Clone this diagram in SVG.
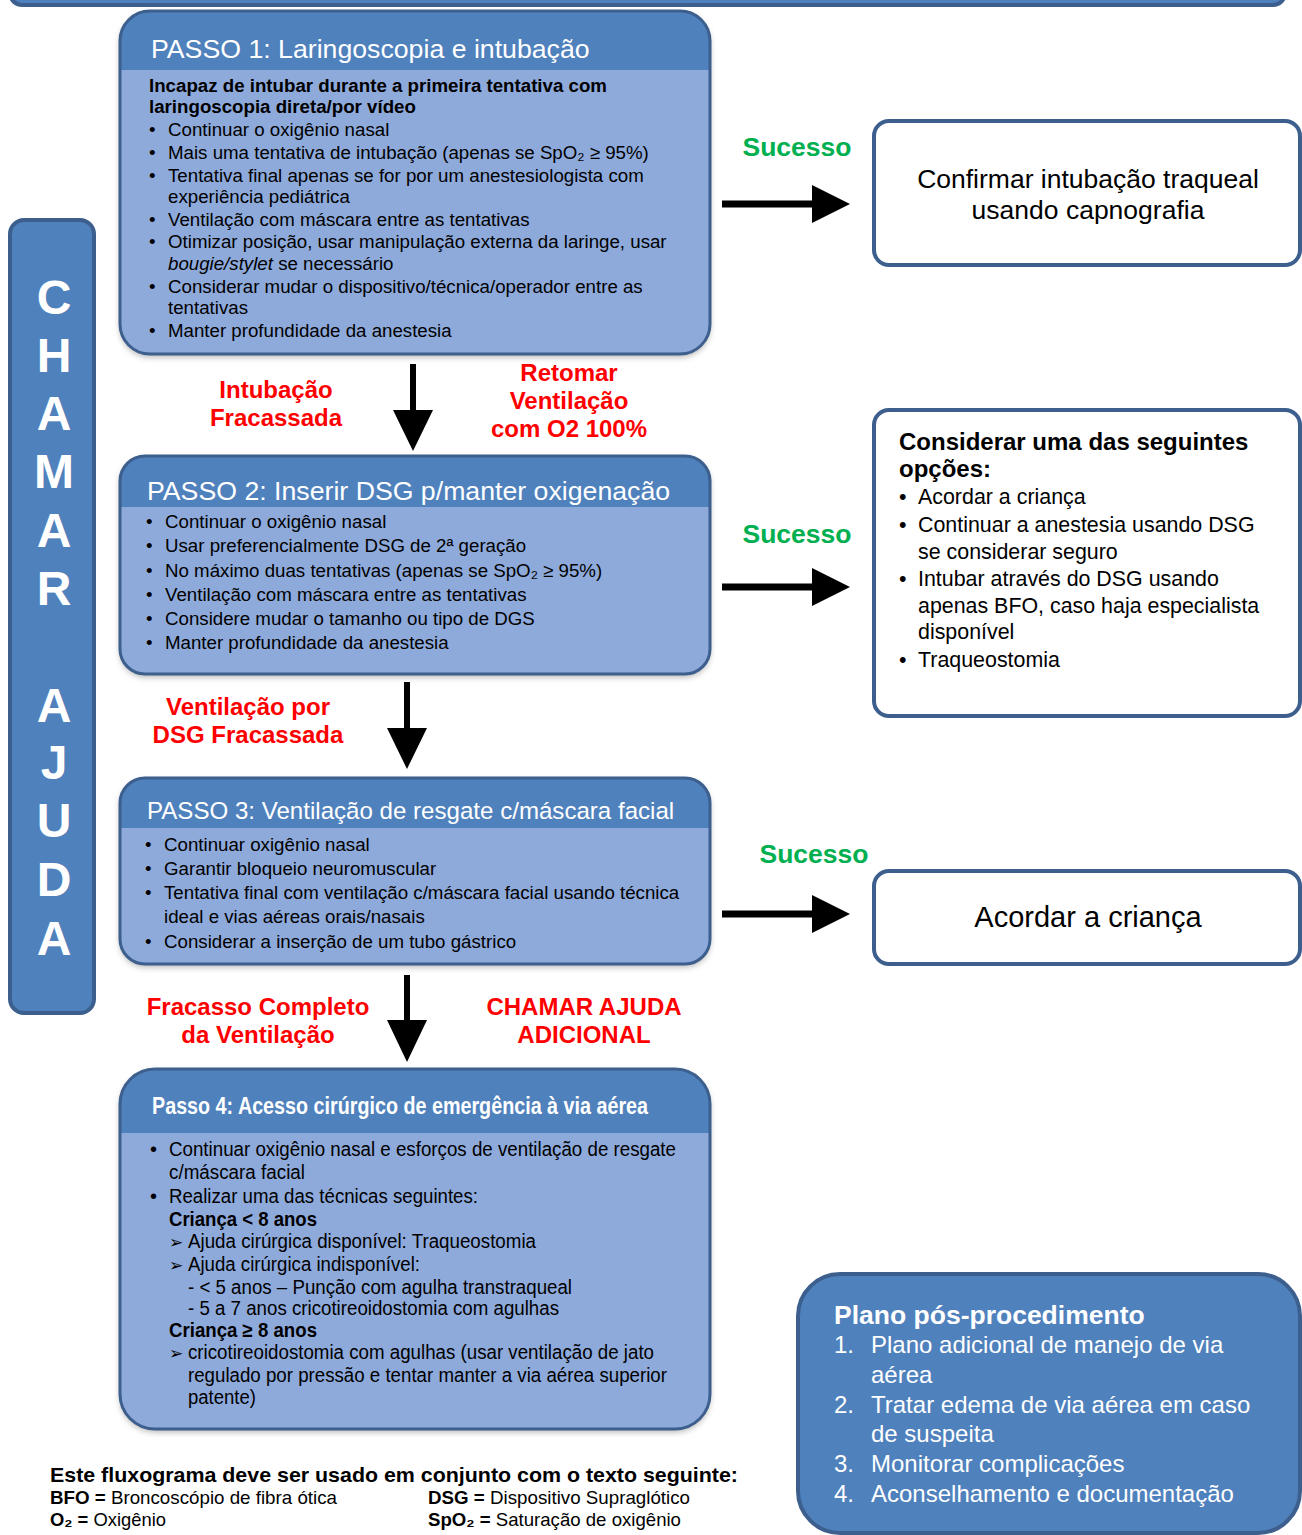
<svg xmlns="http://www.w3.org/2000/svg" width="1302" height="1535" viewBox="0 0 1302 1535">
<defs>
<filter id="sh" x="-5%" y="-5%" width="110%" height="115%">
<feDropShadow dx="0" dy="3" stdDeviation="3" flood-color="#000" flood-opacity="0.3"/>
</filter>
<style>
text{font-family:"Liberation Sans",Arial,sans-serif}
.hdr{fill:#4F81BD}
.body{fill:#8EAADB}
.ol{fill:none;stroke:#3C5F8E;stroke-width:3}
.wbox{fill:#FFFFFF;stroke:#3C5F8E;stroke-width:4}
.ttl{font-size:26.7px;fill:#FFFFFF}
.b{font-size:18.7px;fill:#000}
.bb{font-size:18.7px;font-weight:bold;fill:#000}
.n{font-size:20px;fill:#000}
.nb{font-size:20px;font-weight:bold;fill:#000}
.ar{font-size:17px;font-family:"DejaVu Sans",sans-serif;fill:#000}
.red{fill:#FF0000;font-weight:bold;font-size:24px;text-anchor:middle}
.grn{fill:#00B050;font-weight:bold;font-size:26.5px;text-anchor:middle}
.ch{fill:#FFFFFF;font-weight:bold;font-size:48px;text-anchor:middle}
.rb{font-size:21.4px;fill:#000}
.pl{font-size:24px;fill:#FFFFFF}
</style>
</defs>
<rect width="1302" height="1535" fill="#FFFFFF"/>

<g id="topbar">
<rect x="10" y="-40" width="1275" height="45" rx="12" fill="#4F81BD" stroke="#3C5F8E" stroke-width="4"/>
</g>

<g id="chamar">
<rect x="10" y="220" width="84" height="793" rx="14" fill="#4F81BD" stroke="#3C5F8E" stroke-width="4"/>
<text class="ch" x="54" y="314">C</text>
<text class="ch" x="54" y="372">H</text>
<text class="ch" x="54" y="430">A</text>
<text class="ch" x="54" y="488">M</text>
<text class="ch" x="54" y="547">A</text>
<text class="ch" x="54" y="605">R</text>
<text class="ch" x="54" y="722">A</text>
<text class="ch" x="54" y="779">J</text>
<text class="ch" x="54" y="837">U</text>
<text class="ch" x="54" y="896">D</text>
<text class="ch" x="54" y="955">A</text>
</g>

<g id="step1">
<rect x="120" y="11" width="590" height="343" rx="30" class="body" filter="url(#sh)"/>
<path class="hdr" d="M120,70 V41 A30,30 0 0 1 150,11 H680 A30,30 0 0 1 710,41 V70 Z"/>
<rect x="120" y="11" width="590" height="343" rx="30" class="ol"/>
<text class="ttl" x="151" y="57.5">PASSO 1: Laringoscopia e intubação</text>
<text class="bb" x="149" y="92">Incapaz de intubar durante a primeira tentativa com</text>
<text class="bb" x="149" y="113">laringoscopia direta/por vídeo</text>
<text class="b" x="149" y="136">•</text><text class="b" x="168" y="136">Continuar o oxigênio nasal</text>
<text class="b" x="149" y="159">•</text><text class="b" x="168" y="159">Mais uma tentativa de intubação (apenas se SpO₂ ≥ 95%)</text>
<text class="b" x="149" y="182">•</text><text class="b" x="168" y="182">Tentativa final apenas se for por um anestesiologista com</text>
<text class="b" x="168" y="203">experiência pediátrica</text>
<text class="b" x="149" y="226">•</text><text class="b" x="168" y="226">Ventilação com máscara entre as tentativas</text>
<text class="b" x="149" y="248">•</text><text class="b" x="168" y="248">Otimizar posição, usar manipulação externa da laringe, usar</text>
<text class="b" x="168" y="270"><tspan font-style="italic">bougie/stylet</tspan> se necessário</text>
<text class="b" x="149" y="293">•</text><text class="b" x="168" y="293">Considerar mudar o dispositivo/técnica/operador entre as</text>
<text class="b" x="168" y="314">tentativas</text>
<text class="b" x="149" y="337">•</text><text class="b" x="168" y="337">Manter profundidade da anestesia</text>
</g>

<g id="step2">
<rect x="120" y="456" width="590" height="218" rx="25" class="body" filter="url(#sh)"/>
<path class="hdr" d="M120,507 V481 A25,25 0 0 1 145,456 H685 A25,25 0 0 1 710,481 V507 Z"/>
<rect x="120" y="456" width="590" height="218" rx="25" class="ol"/>
<text class="ttl" x="147" y="499.5">PASSO 2: Inserir DSG p/manter oxigenação</text>
<text class="b" x="146" y="528">•</text><text class="b" x="165" y="528">Continuar o oxigênio nasal</text>
<text class="b" x="146" y="552">•</text><text class="b" x="165" y="552">Usar preferencialmente DSG de 2ª geração</text>
<text class="b" x="146" y="577">•</text><text class="b" x="165" y="577">No máximo duas tentativas (apenas se SpO₂ ≥ 95%)</text>
<text class="b" x="146" y="601">•</text><text class="b" x="165" y="601">Ventilação com máscara entre as tentativas</text>
<text class="b" x="146" y="625">•</text><text class="b" x="165" y="625">Considere mudar o tamanho ou tipo de DGS</text>
<text class="b" x="146" y="649">•</text><text class="b" x="165" y="649">Manter profundidade da anestesia</text>
</g>

<g id="step3">
<rect x="120" y="778" width="590" height="186" rx="25" class="body" filter="url(#sh)"/>
<path class="hdr" d="M120,828 V803 A25,25 0 0 1 145,778 H685 A25,25 0 0 1 710,803 V828 Z"/>
<rect x="120" y="778" width="590" height="186" rx="25" class="ol"/>
<text class="ttl" x="147" y="819" style="font-size:24.1px">PASSO 3: Ventilação de resgate c/máscara facial</text>
<text class="b" x="145" y="851">•</text><text class="b" x="164" y="851">Continuar oxigênio nasal</text>
<text class="b" x="145" y="875">•</text><text class="b" x="164" y="875">Garantir bloqueio neuromuscular</text>
<text class="b" x="145" y="899">•</text><text class="b" x="164" y="899">Tentativa final com ventilação c/máscara facial usando técnica</text>
<text class="b" x="164" y="923">ideal e vias aéreas orais/nasais</text>
<text class="b" x="145" y="948">•</text><text class="b" x="164" y="948">Considerar a inserção de um tubo gástrico</text>
</g>

<g id="step4">
<rect x="120" y="1069" width="590" height="360" rx="35" class="body" filter="url(#sh)"/>
<path class="hdr" d="M120,1133 V1104 A35,35 0 0 1 155,1069 H675 A35,35 0 0 1 710,1104 V1133 Z"/>
<rect x="120" y="1069" width="590" height="360" rx="35" class="ol"/>
<text x="152" y="1114" style="font-size:24px;font-weight:bold;fill:#fff" textLength="496" lengthAdjust="spacingAndGlyphs">Passo 4: Acesso cirúrgico de emergência à via aérea</text>
<text class="n" x="150" y="1156">•</text><text class="n" x="169" y="1156" textLength="507" lengthAdjust="spacingAndGlyphs">Continuar oxigênio nasal e esforços de ventilação de resgate</text>
<text class="n" x="169" y="1179" textLength="136" lengthAdjust="spacingAndGlyphs">c/máscara facial</text>
<text class="n" x="150" y="1203">•</text><text class="n" x="169" y="1203" textLength="309" lengthAdjust="spacingAndGlyphs">Realizar uma das técnicas seguintes:</text>
<text class="nb" x="169" y="1226" textLength="148" lengthAdjust="spacingAndGlyphs">Criança &lt; 8 anos</text>
<text class="ar" x="169" y="1248">➢</text><text class="n" x="188" y="1248" textLength="348" lengthAdjust="spacingAndGlyphs">Ajuda cirúrgica disponível: Traqueostomia</text>
<text class="ar" x="169" y="1271">➢</text><text class="n" x="188" y="1271" textLength="232" lengthAdjust="spacingAndGlyphs">Ajuda cirúrgica indisponível:</text>
<text class="n" x="188" y="1294" textLength="384" lengthAdjust="spacingAndGlyphs">- &lt; 5 anos – Punção com agulha transtraqueal</text>
<text class="n" x="188" y="1315" textLength="371" lengthAdjust="spacingAndGlyphs">- 5 a 7 anos cricotireoidostomia com agulhas</text>
<text class="nb" x="169" y="1337" textLength="148" lengthAdjust="spacingAndGlyphs">Criança ≥ 8 anos</text>
<text class="ar" x="169" y="1359">➢</text><text class="n" x="188" y="1359" textLength="466" lengthAdjust="spacingAndGlyphs">cricotireoidostomia com agulhas (usar ventilação de jato</text>
<text class="n" x="188" y="1382" textLength="479" lengthAdjust="spacingAndGlyphs">regulado por pressão e tentar manter a via aérea superior</text>
<text class="n" x="188" y="1404" textLength="68" lengthAdjust="spacingAndGlyphs">patente)</text>
</g>

<g id="box-confirmar">
<rect x="874" y="121" width="426" height="144" rx="15" class="wbox"/>
<text x="1088" y="187.5" style="font-size:26.5px;text-anchor:middle">Confirmar intubação traqueal</text>
<text x="1088" y="218.5" style="font-size:26.5px;text-anchor:middle">usando capnografia</text>
</g>

<g id="box-opcoes">
<rect x="874" y="410" width="426" height="306" rx="15" class="wbox"/>
<text x="899" y="450" style="font-size:24px;font-weight:bold">Considerar uma das seguintes</text>
<text x="899" y="477" style="font-size:24px;font-weight:bold">opções:</text>
<text class="rb" x="899" y="504">•</text><text class="rb" x="918" y="504">Acordar a criança</text>
<text class="rb" x="899" y="532">•</text><text class="rb" x="918" y="532">Continuar a anestesia usando DSG</text>
<text class="rb" x="918" y="559">se considerar seguro</text>
<text class="rb" x="899" y="586">•</text><text class="rb" x="918" y="586">Intubar através do DSG usando</text>
<text class="rb" x="918" y="613">apenas BFO, caso haja especialista</text>
<text class="rb" x="918" y="639">disponível</text>
<text class="rb" x="899" y="667">•</text><text class="rb" x="918" y="667">Traqueostomia</text>
</g>

<g id="box-acordar">
<rect x="874" y="871" width="426" height="93" rx="15" class="wbox"/>
<text x="1088" y="927" style="font-size:29px;text-anchor:middle">Acordar a criança</text>
</g>

<g id="plano">
<rect x="798" y="1274" width="502" height="259" rx="42" fill="#4F81BD" stroke="#3C5F8E" stroke-width="4"/>
<text x="834" y="1324" style="font-size:26.5px;font-weight:bold;fill:#fff">Plano pós-procedimento</text>
<text class="pl" x="834" y="1353">1.</text><text class="pl" x="871" y="1353">Plano adicional de manejo de via</text>
<text class="pl" x="871" y="1383">aérea</text>
<text class="pl" x="834" y="1413">2.</text><text class="pl" x="871" y="1413">Tratar edema de via aérea em caso</text>
<text class="pl" x="871" y="1442">de suspeita</text>
<text class="pl" x="834" y="1472">3.</text><text class="pl" x="871" y="1472">Monitorar complicações</text>
<text class="pl" x="834" y="1502">4.</text><text class="pl" x="871" y="1502">Aconselhamento e documentação</text>
</g>

<g id="connectors">
<path d="M410,364 H416 V410 H433 L413,451 L393,410 H410 Z" fill="#000"/>
<path d="M404,682 H410 V728 H427 L407,769 L387,728 H404 Z" fill="#000"/>
<path d="M404,975 H410 V1020 H427 L407,1062 L387,1020 H404 Z" fill="#000"/>
<path d="M722,200.5 H812 V185 L850,204 L812,223 V207.5 H722 Z" fill="#000"/>
<path d="M722,583.5 H812 V568 L850,587 L812,606 V590.5 H722 Z" fill="#000"/>
<path d="M722,910.5 H812 V895 L850,914 L812,933 V917.5 H722 Z" fill="#000"/>
</g>

<g id="labels">
<text class="grn" x="797" y="156">Sucesso</text>
<text class="grn" x="797" y="543">Sucesso</text>
<text class="grn" x="814" y="863">Sucesso</text>
<text class="red" x="276" y="398">Intubação</text>
<text class="red" x="276" y="426">Fracassada</text>
<text class="red" x="569" y="381">Retomar</text>
<text class="red" x="569" y="409">Ventilação</text>
<text class="red" x="569" y="437">com O2 100%</text>
<text class="red" x="248" y="715">Ventilação por</text>
<text class="red" x="248" y="743">DSG Fracassada</text>
<text class="red" x="258" y="1015">Fracasso Completo</text>
<text class="red" x="258" y="1043">da Ventilação</text>
<text class="red" x="584" y="1015">CHAMAR AJUDA</text>
<text class="red" x="584" y="1043">ADICIONAL</text>
</g>

<g id="legenda">
<text x="50" y="1482" style="font-size:21px;font-weight:bold" textLength="688" lengthAdjust="spacingAndGlyphs">Este fluxograma deve ser usado em conjunto com o texto seguinte:</text>
<text x="50" y="1504" style="font-size:19px" textLength="287" lengthAdjust="spacingAndGlyphs"><tspan font-weight="bold">BFO =</tspan> Broncoscópio de fibra ótica</text>
<text x="428" y="1504" style="font-size:19px" textLength="262" lengthAdjust="spacingAndGlyphs"><tspan font-weight="bold">DSG =</tspan> Dispositivo Supraglótico</text>
<text x="50" y="1526" style="font-size:19px" textLength="116" lengthAdjust="spacingAndGlyphs"><tspan font-weight="bold">O₂ =</tspan> Oxigênio</text>
<text x="428" y="1526" style="font-size:19px" textLength="253" lengthAdjust="spacingAndGlyphs"><tspan font-weight="bold">SpO₂ =</tspan> Saturação de oxigênio</text>
</g>
</svg>
